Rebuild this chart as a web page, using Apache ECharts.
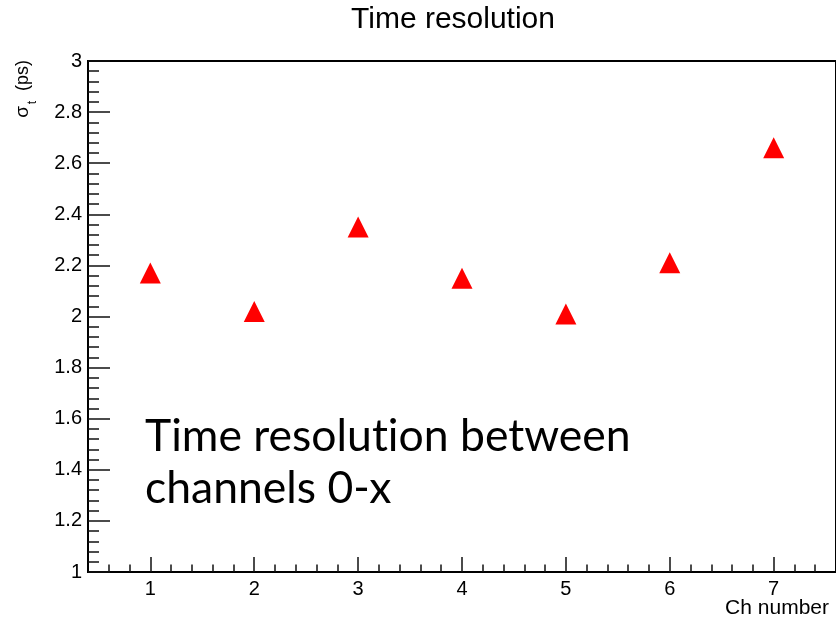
<!DOCTYPE html>
<html>
<head>
<meta charset="utf-8">
<script src="https://cdn.jsdelivr.net/npm/echarts@6/dist/echarts.min.js"></script>
<style>
  html, body { margin: 0; padding: 0; background: #fff; }
  #chart { width: 836px; height: 621px; }
</style>
</head>
<body>
<div id="chart"></div>
<script>
// Channel numbers and the measured time resolution for each (ps)
const channels = [1, 2, 3, 4, 5, 6, 7];
const sigmaT = [2.17, 2.02, 2.35, 2.15, 2.01, 2.21, 2.66];

// Axis ranges and tick positions
const xRange = [0.4, 7.6];
const xMajorTicks = [1, 2, 3, 4, 5, 6, 7];
const xMinorTicks = [0.6, 0.8, 1.2, 1.4, 1.6, 1.8, 2.2, 2.4, 2.6, 2.8, 3.2, 3.4, 3.6, 3.8,
                     4.2, 4.4, 4.6, 4.8, 5.2, 5.4, 5.6, 5.8, 6.2, 6.4, 6.6, 6.8, 7.2, 7.4];
const yRange = [1, 3];
const yStep = 0.2;

const FONT = '"Liberation Sans", Arial, Helvetica, sans-serif';
const NOTE_FONT = '44.5px Lato, "Open Sans", sans-serif';

const chart = echarts.init(document.getElementById('chart'), null, { renderer: 'canvas' });

const points = channels.map((c, i) => [c, sigmaT[i]]);

chart.setOption({
  animation: false,
  backgroundColor: '#ffffff',
  grid: {
    left: 88, top: 61, width: 749, height: 511,
    show: true, borderColor: '#000', borderWidth: 2
  },
  xAxis: [
    {
      type: 'value', min: xRange[0], max: xRange[1],
      axisLine: { show: true, lineStyle: { color: '#000', width: 2 } },
      axisTick: { show: true, inside: true, length: 15, customValues: xMajorTicks,
                  lineStyle: { color: '#111', width: 1.5 } },
      axisLabel: { show: true, customValues: xMajorTicks, margin: 7,
                   color: '#000', fontSize: 20, fontFamily: FONT },
      splitLine: { show: false }
    },
    {
      type: 'value', min: xRange[0], max: xRange[1], position: 'bottom',
      axisLine: { show: false },
      axisTick: { show: true, inside: true, length: 7.5, customValues: xMinorTicks,
                  lineStyle: { color: '#111', width: 1.5 } },
      axisLabel: { show: false },
      splitLine: { show: false }
    }
  ],
  yAxis: {
    type: 'value', min: yRange[0], max: yRange[1], interval: yStep,
    axisLine: { show: true, lineStyle: { color: '#000', width: 2 } },
    axisTick: { show: true, inside: true, length: 22, lineStyle: { color: '#111', width: 1.5 } },
    minorTick: { show: true, splitNumber: 5, length: 11, lineStyle: { color: '#111', width: 1.5 } },
    axisLabel: { margin: 6, color: '#000', fontSize: 20, fontFamily: FONT,
                 formatter: v => String(Math.round(v * 10) / 10) },
    splitLine: { show: false }
  },
  series: [{
    type: 'scatter',
    xAxisIndex: 0,
    data: points,
    symbol: 'triangle',
    symbolSize: [21, 21],
    itemStyle: { color: '#ff0000', opacity: 1 }
  }],
  graphic: [
    {
      type: 'text', x: 453, y: 20,
      style: { text: 'Time resolution', font: '30px ' + FONT, fill: '#000',
               align: 'center', verticalAlign: 'middle' }
    },
    {
      type: 'text', x: 829, y: 608,
      style: { text: 'Ch number', font: '21px ' + FONT, fill: '#000',
               align: 'right', verticalAlign: 'middle' }
    },
    {
      // vertical y-axis title: σ with subscript t, then (ps)
      type: 'group', x: 23, y: 60, rotation: Math.PI / 2,
      children: [
        { type: 'text', x: 0, y: 0,
          style: { text: '(ps)', font: '18px ' + FONT, fill: '#000',
                   align: 'right', verticalAlign: 'middle' } },
        { type: 'text', x: -41, y: 10,
          style: { text: 't', font: '12px ' + FONT, fill: '#000',
                   align: 'right', verticalAlign: 'middle' } },
        { type: 'text', x: -46, y: 0,
          style: { text: 'σ', font: '19px ' + FONT, fill: '#000',
                   align: 'right', verticalAlign: 'middle' } }
      ]
    },
    {
      // zero-width non-joiner keeps "t" and "i" as separate glyphs
      type: 'text', x: 145, y: 437,
      style: { text: 'Time resolut\u200Cion between', font: NOTE_FONT,
               fill: '#000', align: 'left', verticalAlign: 'middle' }
    },
    {
      type: 'text', x: 145, y: 489,
      style: { text: 'channels 0-x', font: NOTE_FONT,
               fill: '#000', align: 'left', verticalAlign: 'middle' }
    }
  ]
});
</script>
</body>
</html>
